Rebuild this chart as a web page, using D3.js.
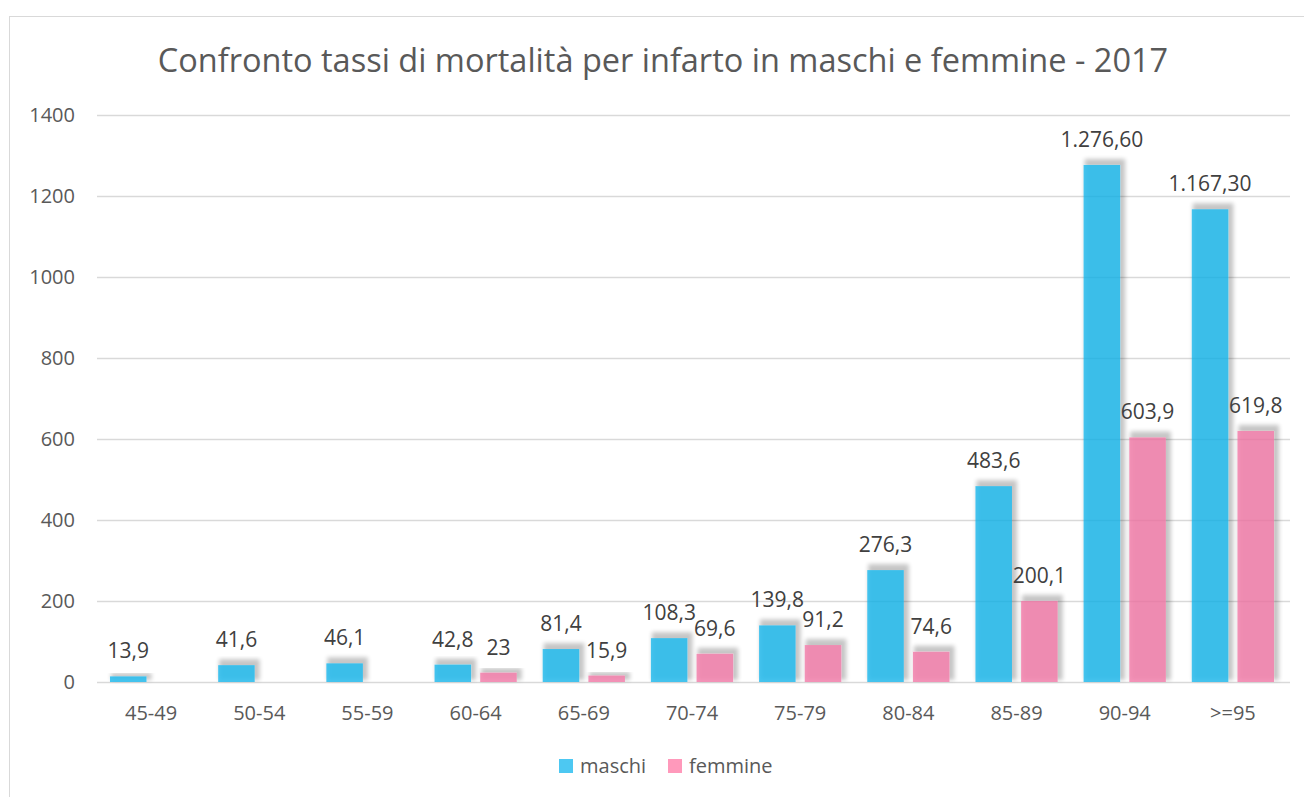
<!DOCTYPE html>
<html>
<head>
<meta charset="utf-8">
<script src="https://cdn.jsdelivr.net/npm/d3@7"></script>
<style>
  body { margin: 0; background: #fff; }
  text { font-family: "Open Sans", sans-serif; }
</style>
</head>
<body>
<script>
const categories = ["45-49", "50-54", "55-59", "60-64", "65-69", "70-74", "75-79", "80-84", "85-89", "90-94", ">=95"];
const maschi = [13.9, 41.6, 46.1, 42.8, 81.4, 108.3, 139.8, 276.3, 483.6, 1276.6, 1167.3];
const femmine = [null, null, null, 23, 15.9, 69.6, 91.2, 74.6, 200.1, 603.9, 619.8];
const seriesNames = ["maschi", "femmine"];
const yTicks = [0, 200, 400, 600, 800, 1000, 1200, 1400];
const title = "Confronto tassi di mortalità per infarto in maschi e femmine - 2017";

const width = 1304, height = 797;
const margin = { top: 115, right: 17, bottom: 115, left: 97 };
const colors = ["#13b4eb", "#f274a4"];
const legendColors = ["#4dc8f2", "#ff99bb"];

const svg = d3.select("body").append("svg")
    .attr("width", width)
    .attr("height", height);

// grey shadow, shifted up and right, seen through the translucent bars
const defs = svg.append("defs");
const shadow = defs.append("filter")
    .attr("id", "shadow")
    .attr("x", "-50%").attr("y", "-50%")
    .attr("width", "200%").attr("height", "200%");
shadow.append("feMorphology")
    .attr("in", "SourceAlpha")
    .attr("operator", "dilate")
    .attr("radius", 1.5)
    .attr("result", "grown");
shadow.append("feOffset")
    .attr("in", "grown")
    .attr("dx", 3).attr("dy", -4)
    .attr("result", "moved");
shadow.append("feGaussianBlur")
    .attr("in", "moved")
    .attr("stdDeviation", 2.2)
    .attr("result", "blurred");
shadow.append("feComponentTransfer")
    .attr("in", "blurred")
    .attr("result", "faded")
    .append("feFuncA").attr("type", "linear").attr("slope", 0.3);
const merge = shadow.append("feMerge");
merge.append("feMergeNode").attr("in", "faded");
merge.append("feMergeNode").attr("in", "SourceGraphic");

// chart frame
svg.append("rect")
    .attr("x", 9.5).attr("y", 16.5)
    .attr("width", 1310).attr("height", 800)
    .attr("fill", "none")
    .attr("stroke", "#d9d9d9");

svg.append("text")
    .attr("x", 663).attr("y", 72)
    .attr("text-anchor", "middle")
    .attr("font-size", 32.5)
    .attr("fill", "#595959")
    .text(title);

const x0 = d3.scaleBand()
    .domain(categories)
    .range([margin.left, width - margin.right])
    .paddingInner(0.24)
    .paddingOuter(0.12);

const x1 = d3.scaleBand()
    .domain(seriesNames)
    .range([0, x0.bandwidth()])
    .paddingInner(0.2);

const y = d3.scaleLinear()
    .domain([0, 1400])
    .range([height - margin.bottom, margin.top]);

// gridlines
svg.append("g")
    .selectAll("line")
    .data(yTicks)
    .enter().append("line")
    .attr("x1", margin.left).attr("x2", width - 14)
    .attr("y1", (d) => y(d) + 0.5).attr("y2", (d) => y(d) + 0.5)
    .attr("stroke", "#d9d9d9")
    .attr("stroke-width", 1.3);

// y tick labels
svg.append("g")
    .selectAll("text")
    .data(yTicks)
    .enter().append("text")
    .attr("x", 75)
    .attr("y", (d) => y(d) + 7)
    .attr("text-anchor", "end")
    .attr("font-size", 20)
    .attr("fill", "#595959")
    .text((d) => d);

// x labels
svg.append("g")
    .selectAll("text")
    .data(categories)
    .enter().append("text")
    .attr("x", (d) => x0(d) + x0.bandwidth() / 2)
    .attr("y", 720)
    .attr("text-anchor", "middle")
    .attr("font-size", 20)
    .attr("fill", "#595959")
    .text((d) => d);

const rows = [];
categories.forEach((c, i) => {
    if (maschi[i] != null) rows.push({ cat: c, series: "maschi", value: maschi[i] });
    if (femmine[i] != null) rows.push({ cat: c, series: "femmine", value: femmine[i] });
});

const colorOf = d3.scaleOrdinal().domain(seriesNames).range(colors);

svg.append("g")
    .selectAll("rect")
    .data(rows)
    .enter().append("rect")
    .attr("x", (d) => x0(d.cat) + x1(d.series))
    .attr("y", (d) => y(d.value))
    .attr("width", x1.bandwidth())
    .attr("height", (d) => y(0) - y(d.value))
    .attr("fill", (d) => colorOf(d.series))
    .attr("fill-opacity", 0.76)
    .attr("filter", "url(#shadow)");

const itLocale = d3.formatLocale({ decimal: ",", thousands: ".", grouping: [3], currency: ["", "€"] });
const fmtBig = itLocale.format(",.2f");
const fmtSmall = itLocale.format(".1f");
const labelOf = (v) => v >= 1000 ? fmtBig(v) : (Number.isInteger(v) ? String(v) : fmtSmall(v));

svg.append("g")
    .selectAll("text")
    .data(rows)
    .enter().append("text")
    .attr("x", (d) => x0(d.cat) + x1(d.series) + x1.bandwidth() / 2)
    .attr("y", (d) => y(d.value) - 18)
    .attr("text-anchor", "middle")
    .attr("font-size", 21)
    .attr("fill", "#404040")
    .text((d) => labelOf(d.value));

// legend
const legend = svg.append("g").attr("transform", "translate(559, 759)");
const legendX = [0, 109];
seriesNames.forEach((s, i) => {
    const g = legend.append("g").attr("transform", `translate(${legendX[i]}, 0)`);
    g.append("rect")
        .attr("width", 14).attr("height", 14)
        .attr("fill", legendColors[i]);
    g.append("text")
        .attr("x", 21).attr("y", 13.5)
        .attr("font-size", 20)
        .attr("fill", "#595959")
        .text(s);
});
</script>
</body>
</html>
